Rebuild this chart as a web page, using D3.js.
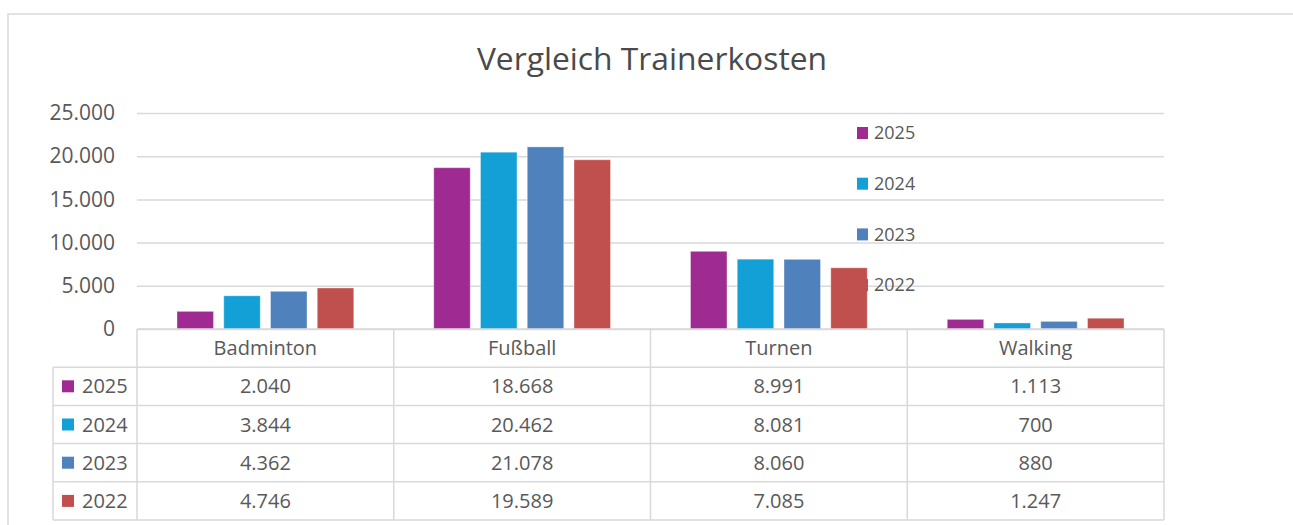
<!DOCTYPE html>
<html>
<head>
<meta charset="utf-8">
<script src="https://cdn.jsdelivr.net/npm/d3@7"></script>
<style>
  body { margin: 0; background: #fff; }
  svg { display: block; }
  text { font-family: "Open Sans", sans-serif; fill: #595959; }
</style>
</head>
<body>
<div id="chart"></div>
<script>
// Data
const categories = ["Badminton", "Fußball", "Turnen", "Walking"];
const years = ["2025", "2024", "2023", "2022"];
const values2025 = [2040, 18668, 8991, 1113];
const values2024 = [3844, 20462, 8081, 700];
const values2023 = [4362, 21078, 8060, 880];
const values2022 = [4746, 19589, 7085, 1247];
const yTicks = [0, 5000, 10000, 15000, 20000, 25000];
const colors = ["#9e2a92", "#12a0d7", "#4f81bd", "#c0504d"];

const seriesValues = [values2025, values2024, values2023, values2022];
const series = years.map((y, i) => ({ year: y, color: colors[i], values: seriesValues[i] }));

// Basic settings
const width = 1293;
const height = 525;
const plotLeft = 137;
const plotRight = 1164;
const plotTop = 113;
const plotBottom = 329;
const rowH = 38.2;
const legendColLeft = 53;
const gridColor = "#d9d9d9";

const de = d3.formatLocale({ decimal: ",", thousands: ".", grouping: [3], currency: ["", "€"] });
const fmt = de.format(",d");

const svg = d3.select("#chart")
  .append("svg")
  .attr("width", width)
  .attr("height", height);

// chart frame
svg.append("rect")
  .attr("x", 8)
  .attr("y", 14)
  .attr("width", 1320)
  .attr("height", 540)
  .attr("fill", "none")
  .attr("stroke", gridColor)
  .attr("stroke-width", 1.5);

// title
svg.append("text")
  .attr("x", 652)
  .attr("y", 70)
  .attr("text-anchor", "middle")
  .style("font-size", "31.8px")
  .style("fill", "#4a4a4a")
  .text("Vergleich Trainerkosten");

// scales
const x = d3.scaleBand()
  .domain(categories)
  .range([plotLeft, plotRight]);

const xInner = d3.scaleBand()
  .domain(years)
  .range([40, x.bandwidth() - 40])
  .paddingInner(0.22);

const y = d3.scaleLinear()
  .domain([0, 25000])
  .range([plotBottom, plotTop]);

// gridlines + y labels
const yAxis = svg.append("g")
  .call(d3.axisLeft(y)
    .tickValues(yTicks)
    .tickSize(-(plotRight - plotLeft))
    .tickPadding(22)
    .tickFormat(fmt))
  .attr("transform", "translate(" + plotLeft + ",0)");

yAxis.select(".domain").remove();
yAxis.selectAll(".tick line")
  .attr("stroke", gridColor)
  .attr("stroke-width", 1.5);
yAxis.selectAll(".tick text")
  .attr("fill", "#595959")
  .style("font-size", "21px")
  .style("font-family", "'Open Sans', sans-serif");

// bars
const groups = svg.append("g")
  .selectAll("g")
  .data(categories)
  .join("g")
  .attr("transform", d => "translate(" + x(d) + ",0)");

groups.selectAll("rect")
  .data((c, ci) => series.map(s => ({ year: s.year, color: s.color, value: s.values[ci] })))
  .join("rect")
  .attr("x", d => xInner(d.year))
  .attr("y", d => y(d.value))
  .attr("width", xInner.bandwidth())
  .attr("height", d => y(0) - y(d.value))
  .attr("fill", d => d.color)
  .attr("stroke", "#ffffff")
  .attr("stroke-opacity", 0.35)
  .attr("stroke-width", 1);

// data table
const table = svg.append("g");
const rowY = i => plotBottom + rowH * i;

// horizontal lines
table.append("line")
  .attr("x1", plotLeft).attr("x2", plotRight)
  .attr("y1", rowY(0)).attr("y2", rowY(0))
  .attr("stroke", gridColor).attr("stroke-width", 1.5);
for (let i = 1; i <= years.length + 1; i++) {
  table.append("line")
    .attr("x1", legendColLeft).attr("x2", plotRight)
    .attr("y1", rowY(i)).attr("y2", rowY(i))
    .attr("stroke", gridColor).attr("stroke-width", 1.5);
}
// vertical lines
table.append("line")
  .attr("x1", legendColLeft).attr("x2", legendColLeft)
  .attr("y1", rowY(1)).attr("y2", rowY(years.length + 1))
  .attr("stroke", gridColor).attr("stroke-width", 1.5);
categories.concat([null]).forEach((c, i) => {
  const xx = c === null ? plotRight : x(c);
  table.append("line")
    .attr("x1", xx).attr("x2", xx)
    .attr("y1", rowY(0)).attr("y2", rowY(years.length + 1))
    .attr("stroke", gridColor).attr("stroke-width", 1.5);
});

// header
table.selectAll(".head")
  .data(categories)
  .join("text")
  .attr("class", "head")
  .attr("x", d => x(d) + x.bandwidth() / 2)
  .attr("y", rowY(0) + rowH / 2)
  .attr("dy", "0.35em")
  .attr("text-anchor", "middle")
  .style("font-size", "20px")
  .text(d => d);

// rows
series.forEach((s, i) => {
  const cy = rowY(i + 1) + rowH / 2;
  table.append("rect")
    .attr("x", 62).attr("y", cy - 6)
    .attr("width", 12).attr("height", 12)
    .attr("fill", s.color);
  table.append("text")
    .attr("x", 82).attr("y", cy)
    .attr("dy", "0.35em")
    .style("font-size", "20px")
    .text(s.year);
  table.selectAll(".v" + s.year)
    .data(s.values)
    .join("text")
    .attr("x", (d, ci) => x(categories[ci]) + x.bandwidth() / 2)
    .attr("y", cy)
    .attr("dy", "0.35em")
    .attr("text-anchor", "middle")
    .style("font-size", "20px")
    .text(d => fmt(d));
});

// legend (right)
const legend = svg.append("g")
  .selectAll("g")
  .data(series)
  .join("g")
  .attr("transform", (d, i) => "translate(857," + (133 + i * 50.7) + ")");

legend.append("rect")
  .attr("x", 0).attr("y", -6)
  .attr("width", 11).attr("height", 12)
  .attr("fill", d => d.color);
legend.append("text")
  .attr("x", 17).attr("y", 0)
  .attr("dy", "0.35em")
  .style("font-size", "18px")
  .text(d => d.year);
</script>
</body>
</html>
